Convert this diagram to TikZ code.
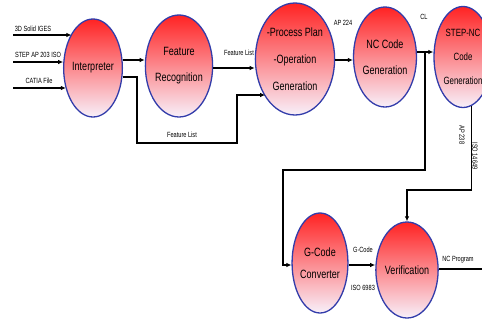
\documentclass[tikz,border=0pt]{standalone}
\usepackage{fontspec}
\setmainfont{Liberation Sans}[FakeStretch=0.75]
\usetikzlibrary{shapes.geometric,arrows.meta}
\definecolor{ellblue}{RGB}{50,60,170}
\definecolor{topred}{RGB}{255,35,35}
\definecolor{midpink}{RGB}{248,150,160}
\definecolor{botwhite}{RGB}{248,240,250}
\tikzset{
  proc/.style={ellipse, draw=ellblue, line width=1.3pt, top color=topred, middle color=midpink, bottom color=botwhite, inner sep=0pt, align=center, font=\fontsize{12}{26}\selectfont},
  lbl/.style={font=\fontsize{7.5}{9}\selectfont, inner sep=0pt},
  arr/.style={line width=1.3pt, -{Latex[length=5pt,width=4.5pt]}},
  ln/.style={line width=1.3pt}
}
\begin{document}
\begin{tikzpicture}[x=1pt,y=-1pt]
\useasboundingbox (0,0) rectangle (482,323);
\clip (0,0) rectangle (482,323);
% ellipses
\node[proc, minimum width=56pt, minimum height=98pt] (Interp) at (93,68) {Interpreter};
\node[proc, minimum width=58pt, minimum height=102pt] (FR) at (179,66) {Feature\\Recognition};
\node[proc, minimum width=74pt, minimum height=112pt, font=\fontsize{12}{27}\selectfont] (PP) at (295,59) {-Process Plan\\-Operation\\Generation};
\node[proc, minimum width=56pt, minimum height=100pt] (NC) at (385,57) {NC Code\\Generation};
\node[proc, minimum width=58pt, minimum height=101pt, font=\fontsize{10.5}{24}\selectfont] (STEP) at (463,57) {STEP-NC\\Code\\Generation};
\node[proc, minimum width=55pt, minimum height=100pt, font=\fontsize{12}{22}\selectfont] (GC) at (320,263) {G-Code\\Converter};
\node[proc, minimum width=55pt, minimum height=96pt] (VER) at (407,270) {Verification};

% helper coordinates
\coordinate (in1) at (13,35);
\coordinate (in2) at (13,62);
\coordinate (in3) at (13,88);
\coordinate (y60) at (0,60);
\coordinate (y77) at (0,77);
\coordinate (y68) at (0,68);
\coordinate (y95) at (0,95);
\coordinate (y52) at (0,52);
\coordinate (y265) at (0,265);
\coordinate (y269) at (0,269);
\coordinate (y190) at (0,190);
\coordinate (x468) at (468,0);
\coordinate (out) at (492,269);

% inputs
\draw[arr] (in1) -- (Interp.122 |- in1);
\draw[arr] (in2) -- (Interp.168 |- in2);
\draw[arr] (in3) -- (Interp.218 |- in3);
\node[lbl] (t1) at (33,29) {3D Solid IGES};
\node[lbl] (t2) at (38,55) {STEP AP 203 ISO};
\node[lbl] (t3) at (39,81) {CATIA File};

% connectors
\draw[arr] (Interp.east |- y60) -- (FR.west |- y60);
\draw[arr] (Interp.east |- y77) -- (137,77) -- (137,143) -- (237,143) -- (237,95) -- (PP.232 |- y95);
\node[lbl] (fl1) at (182,135) {Feature List};
\draw[arr] (FR.east |- y68) -- (PP.west |- y68);
\node[lbl] (fl2) at (239,53) {Feature List};
\draw[arr] (PP.east |- y60) -- (NC.west |- y60);
\node[lbl] (ap224) at (343,23) {AP 224};
\draw[arr] (NC.east |- y52) -- (STEP.west |- y52);
\node[lbl] (cl) at (424,17) {CL};
\draw[arr] (425,52) -- (425,170) -- (283,170) -- (283,265) -- (GC.west |- y265);
\draw[arr] (STEP.-80) -- (STEP.-80 |- y190) -| (VER.north);
\node[lbl, rotate=-90] (ap238) at (462,135) {AP 238};
\node[lbl, rotate=-90] (iso14649) at (475,156) {ISO 14649};
\draw[arr] (GC.east |- y265) -- (VER.west |- y265);
\node[lbl] (gcode) at (363,250) {G-Code};
\node[lbl] (iso6983) at (363,288) {ISO 6983};
\draw[arr] (VER.east |- y269) -- (out);
\node[lbl] (ncp) at (458,260) {NC Program};
\end{tikzpicture}
\end{document}
